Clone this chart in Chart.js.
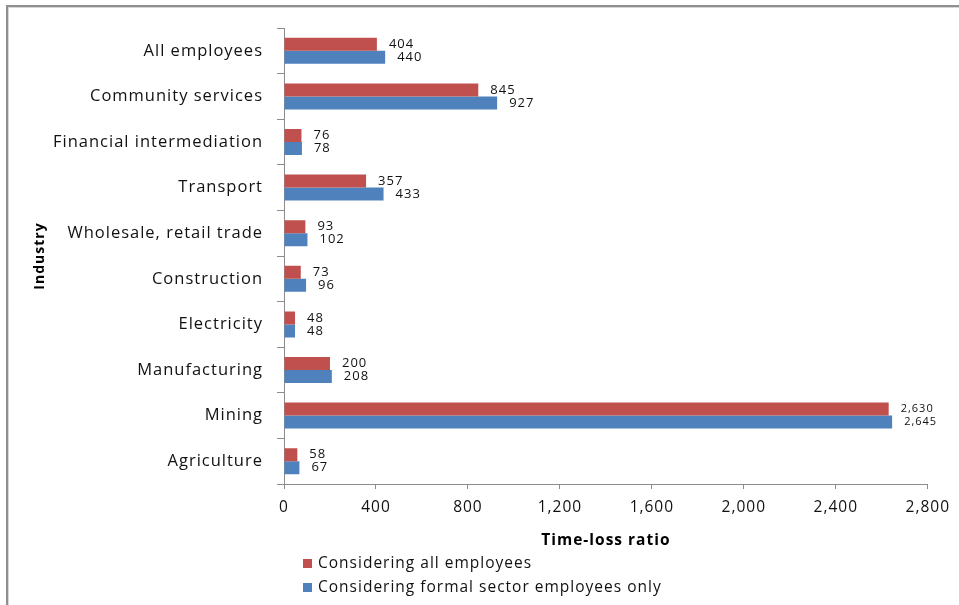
<!DOCTYPE html>
<html>
<head>
<meta charset="utf-8">
<script src="https://cdn.jsdelivr.net/npm/chart.js@4.4.1/dist/chart.umd.min.js"></script>
<style>
  html, body { margin: 0; padding: 0; background: #ffffff; }
  #wrap { width: 959px; height: 605px; position: relative; }
</style>
</head>
<body>
<div id="wrap"><canvas id="chart" width="959" height="605"></canvas></div>
<script>
// Industries, listed top to bottom
const industries = [
  'All employees',
  'Community services',
  'Financial intermediation',
  'Transport',
  'Wholesale, retail trade',
  'Construction',
  'Electricity',
  'Manufacturing',
  'Mining',
  'Agriculture'
];

// Time-loss ratio per industry
const allEmployees = [404, 845, 76, 357, 93, 73, 48, 200, 2630, 58];
const formalSectorOnly = [440, 927, 78, 433, 102, 96, 48, 208, 2645, 67];

const seriesNames = ['Considering all employees', 'Considering formal sector employees only'];
const xTicks = [0, 400, 800, 1200, 1600, 2000, 2400, 2800];

const FONT = "'Open Sans', 'Noto Sans', sans-serif";
const TEXT = '#111111';
const AXIS = '#8c8c8c';
const RED = '#c0504d';
const BLUE = '#4f81bd';

// Slightly open letter spacing on every text draw
const spacing = {
  id: 'spacing',
  beforeUpdate(chart) { chart.ctx.letterSpacing = '1px'; },
  beforeLayout(chart) { chart.ctx.letterSpacing = '1px'; },
  beforeDraw(chart) { chart.ctx.letterSpacing = '1px'; }
};

// White page with the frame lines along the top and left edge
const frame = {
  id: 'frame',
  beforeDraw(chart) {
    const ctx = chart.ctx;
    ctx.save();
    ctx.fillStyle = '#ffffff';
    ctx.fillRect(0, 0, chart.width, chart.height);
    ctx.strokeStyle = '#8f8f8f';
    ctx.lineWidth = 2;
    ctx.beginPath();
    ctx.moveTo(7, chart.height);
    ctx.lineTo(7, 6);
    ctx.lineTo(chart.width, 6);
    ctx.stroke();
    ctx.strokeStyle = '#d6d6d6';
    ctx.lineWidth = 1;
    ctx.beginPath();
    ctx.moveTo(8.5, chart.height);
    ctx.lineTo(8.5, 7.5);
    ctx.lineTo(chart.width, 7.5);
    ctx.stroke();
    ctx.restore();
  }
};

// Value labels just past the end of each bar
const valueLabels = {
  id: 'valueLabels',
  afterDatasetsDraw(chart) {
    const ctx = chart.ctx;
    ctx.save();
    ctx.letterSpacing = '1px';
    ctx.fillStyle = TEXT;
    ctx.textAlign = 'left';
    ctx.textBaseline = 'middle';
    chart.data.datasets.forEach((ds, di) => {
      const meta = chart.getDatasetMeta(di);
      meta.data.forEach((bar, i) => {
        const v = ds.data[i];
        const size = v >= 1000 ? 11 : 13;
        ctx.font = size + 'px ' + FONT;
        ctx.fillText(v.toLocaleString('en-US'), bar.x + 12, bar.y);
      });
    });
    ctx.restore();
  }
};

// Two-row legend below the axis title
const stackedLegend = {
  id: 'stackedLegend',
  afterDraw(chart) {
    const ctx = chart.ctx;
    ctx.save();
    ctx.letterSpacing = '1px';
    ctx.font = '15.5px ' + FONT;
    ctx.textAlign = 'left';
    ctx.textBaseline = 'middle';
    const rows = [563.5, 587.5];
    chart.data.datasets.forEach((ds, i) => {
      const y = rows[i];
      ctx.fillStyle = ds.backgroundColor;
      ctx.fillRect(303, y - 4.5, 9, 9);
      ctx.fillStyle = TEXT;
      ctx.fillText(ds.label, 318, y);
    });
    ctx.restore();
  }
};

new Chart(document.getElementById('chart'), {
  type: 'bar',
  data: {
    labels: industries,
    datasets: [
      { label: seriesNames[0], data: allEmployees, backgroundColor: RED },
      { label: seriesNames[1], data: formalSectorOnly, backgroundColor: BLUE }
    ]
  },
  options: {
    indexAxis: 'y',
    responsive: false,
    animation: false,
    devicePixelRatio: 1,
    categoryPercentage: 0.57,
    barPercentage: 1.0,
    layout: { padding: { top: 28, right: 28, bottom: 51, left: 8 } },
    plugins: {
      legend: { display: false },
      tooltip: { enabled: false }
    },
    scales: {
      x: {
        min: 0,
        max: 2800,
        afterBuildTicks(scale) { scale.ticks = xTicks.map(v => ({ value: v })); },
        afterFit(scale) { scale.height = 70; },
        border: { display: true, color: AXIS, width: 1 },
        grid: { drawOnChartArea: false, drawTicks: true, tickLength: 5, color: AXIS },
        ticks: {
          color: TEXT,
          padding: 9,
          maxRotation: 0,
          font: { family: FONT, size: 15.5 },
          callback: v => v.toLocaleString('en-US')
        },
        title: {
          display: true,
          text: 'Time-loss ratio',
          color: '#000000',
          font: { family: FONT, size: 15.5, weight: 'bold' },
          padding: { top: 0, bottom: 4.5 }
        }
      },
      y: {
        afterFit(scale) { scale.width = 276; },
        border: { display: true, color: AXIS, width: 1 },
        grid: { drawOnChartArea: false, drawTicks: true, tickLength: 7, color: AXIS },
        ticks: {
          color: TEXT,
          padding: 14,
          font: { family: FONT, size: 16.5 }
        },
        title: {
          display: true,
          text: 'Industry',
          color: '#000000',
          font: { family: FONT, size: 14, weight: 'bold' },
          padding: { top: 24, bottom: 0 }
        }
      }
    }
  },
  plugins: [spacing, frame, valueLabels, stackedLegend]
});
</script>
</body>
</html>
